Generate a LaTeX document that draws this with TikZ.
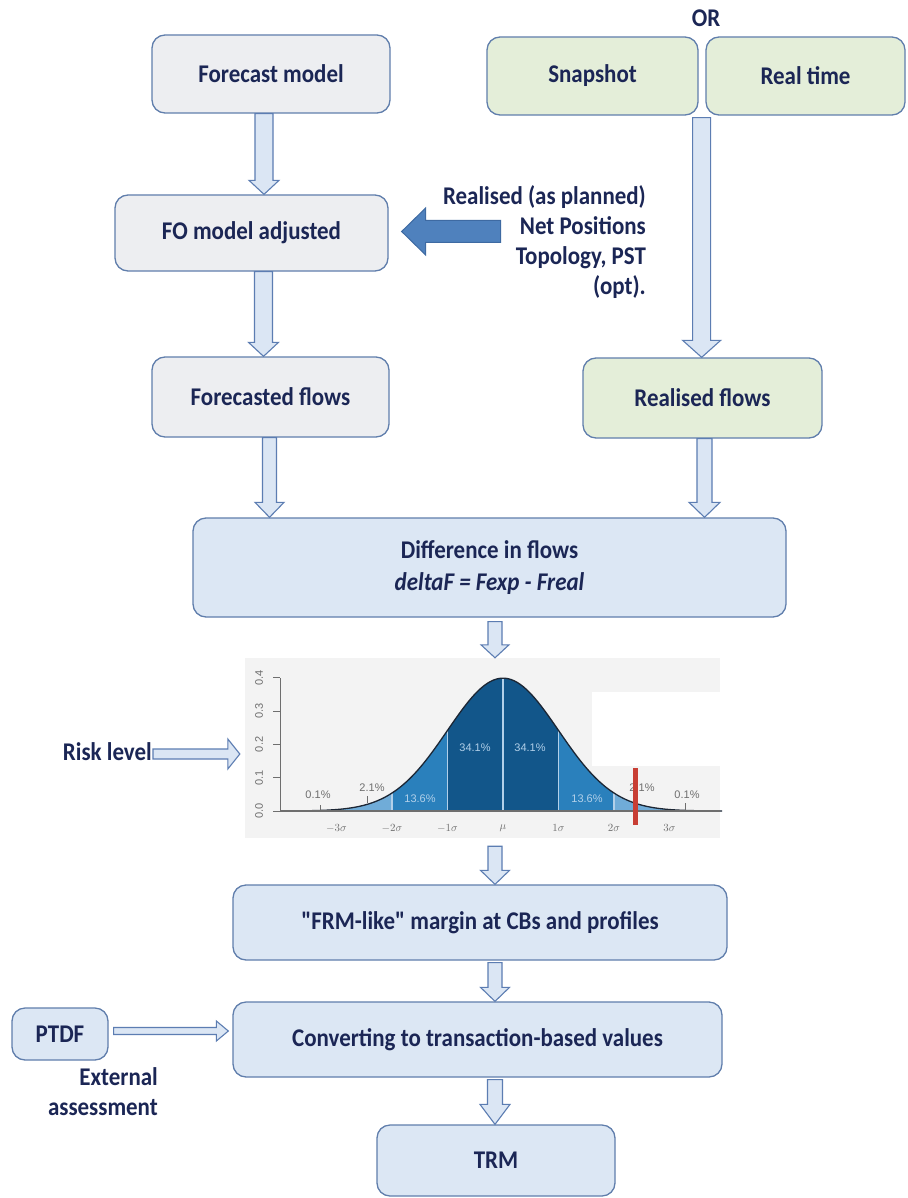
\documentclass[tikz,border=0pt]{standalone}
\usepackage{fontspec}
\setmainfont{Carlito}[FakeStretch=0.9]
\newfontfamily\straightquote{Carlito}[FakeStretch=0.9, Ligatures=ResetAll]
\newfontfamily\chartfont{Liberation Sans}
\usetikzlibrary{calc}

\definecolor{ink}{RGB}{27,38,85}
\definecolor{edge}{RGB}{96,126,172}
\definecolor{grayfill}{RGB}{237,238,241}
\definecolor{greenfill}{RGB}{228,238,217}
\definecolor{bluefill}{RGB}{220,231,244}
\definecolor{arrowfill}{RGB}{219,230,244}
\definecolor{arrowedge}{RGB}{92,125,178}
\definecolor{solidblue}{RGB}{79,129,189}
\definecolor{solidedge}{RGB}{62,106,162}
\definecolor{chartbg}{RGB}{243,243,243}
\definecolor{sigA}{RGB}{18,86,138}
\definecolor{sigB}{RGB}{42,128,188}
\definecolor{sigC}{RGB}{112,172,216}
\definecolor{sigD}{RGB}{172,206,231}
\definecolor{divline}{RGB}{178,208,233}
\definecolor{curveline}{RGB}{28,38,52}
\definecolor{axisgray}{RGB}{110,110,110}
\definecolor{redbar}{RGB}{200,62,52}

% straight double quote, not turned into a curly one
\newcommand\dq{{\straightquote\bfseries\symbol{34}}}

% hollow block arrows built from two named points
\newcommand\downblock[5]{%
  \draw[blockarrow] let \p1=#1, \p2=#2 in
    (\x1-#3pt,\y1) -- (\x1-#3pt,\y2+#5pt) -- (\x1-#4pt,\y2+#5pt) -- (\x1,\y2)
    -- (\x1+#4pt,\y2+#5pt) -- (\x1+#3pt,\y2+#5pt) -- (\x1+#3pt,\y1) -- cycle;}
\newcommand\rightblock[5]{%
  \draw[blockarrow] let \p1=#1, \p2=#2 in
    (\x1,\y1+#3pt) -- (\x2-#5pt,\y1+#3pt) -- (\x2-#5pt,\y1+#4pt) -- (\x2,\y1)
    -- (\x2-#5pt,\y1-#4pt) -- (\x2-#5pt,\y1-#3pt) -- (\x1,\y1-#3pt) -- cycle;}

\begin{document}
\begin{tikzpicture}[x=1pt,y=-1pt,
  box/.style={draw=edge, line width=1.3pt, rounded corners=13pt, text=ink,
    font=\bfseries\fontsize{25.5}{30}\selectfont, align=center, inner sep=0pt},
  gbox/.style={box, fill=grayfill},
  grbox/.style={box, fill=greenfill},
  bbox/.style={box, fill=bluefill},
  label/.style={text=ink, font=\bfseries\fontsize{25.5}{30}\selectfont, inner sep=0pt},
  blockarrow/.style={draw=arrowedge, fill=arrowfill, line width=1.1pt, line join=miter},
  solidarrow/.style={draw=solidedge, fill=solidblue, line width=1pt, line join=miter},
  divider/.style={draw=divline, line width=1.3pt},
  chartlbl/.style={font=\chartfont\fontsize{11}{12}\selectfont, inner sep=0pt},
]
\useasboundingbox (0,0) rectangle (907,1198);
\fill[white] (0,0) rectangle (907,1198);

% ---- upper part: model chain and measured data
\node[gbox, minimum width=238pt, minimum height=78pt] (fm) at (271,74) {Forecast model};
\node[gbox, minimum width=273pt, minimum height=76pt] (fo) at (251.5,233) {FO model adjusted};
\node[gbox, minimum width=237pt, minimum height=80pt] (ff) at (270.5,397) {Forecasted flows};
\node[grbox, minimum width=211pt, minimum height=78pt] (snap) at (592.5,76) {Snapshot};
\node[grbox, minimum width=199pt, minimum height=78pt] (real) at (805.5,76) {Real time};
\node[label] (or) at (706,18) {OR};
\node[grbox, minimum width=239pt, minimum height=80pt] (rf) at (702.5,398) {Realised flows};
\node[label, align=right, anchor=east] (planned) at (646,242)
  {Realised (as planned)\\Net Positions\\Topology, PST\\(opt).};

% ---- comparison and margin chain
\node[bbox, minimum width=593pt, minimum height=99pt] (diff) at (489.5,567.5)
  {Difference in flows\\[2pt]\itshape deltaF = Fexp - Freal};
\node[bbox, minimum width=494pt, minimum height=75pt] (frm) at (480,922.5)
  {\dq FRM-like\dq{} margin at CBs and profiles};
\node[bbox, minimum width=489pt, minimum height=75pt] (conv) at (477.5,1039.5)
  {Converting to transaction-based values};
\node[bbox, minimum width=238pt, minimum height=71pt] (trm) at (496,1160.5) {TRM};
\node[bbox, minimum width=96pt, minimum height=52pt] (ptdf) at (60,1034) {PTDF};
\node[label, align=right, anchor=east] (ext) at (158,1092) {External\\assessment};
\node[label, anchor=east] (risk) at (152,752) {Risk level};

% ---- normal distribution chart
\node[fill=chartbg, minimum width=475pt, minimum height=180pt, inner sep=0pt] (chart) at (482.5,748) {};
\fill[white] (592,692) rectangle (720,766);
\foreach \lo/\hi/\col in {-3.6/-3/sigD, -3/-2/sigC, -2/-1/sigB, -1/0/sigA, 0/1/sigA, 1/2/sigB, 2/3/sigC, 3/3.95/sigD}
  \fill[\col] plot[domain=\lo:\hi, samples=30] ({503+55.5*\x},{811-132.85*exp(-0.5*(\x)*(\x))})
    -- ({503+55.5*\hi},811) -- ({503+55.5*\lo},811) -- cycle;
\foreach \z in {-2,-1,0,1,2}
  \draw[divider] ({503+55.5*\z},810) -- ({503+55.5*\z},{811-132.85*exp(-0.5*(\z)*(\z))});
\draw[curveline, line width=1.3pt] plot[domain=-3.6:3.95, samples=140]
  ({503+55.5*\x},{811-132.85*exp(-0.5*(\x)*(\x))});
\draw[axisgray, line width=1.2pt] (280,811) -- (720,811);
\draw[axisgray, line width=1pt] (280,678) -- (280,811);
\foreach \v/\t in {0/0.0, 1/0.1, 2/0.2, 3/0.3, 4/0.4} {
  \draw[axisgray, line width=1pt] (273,{811-33.3*\v}) -- (280,{811-33.3*\v});
  \node[chartlbl, text=axisgray, rotate=90] at (259,{811-33.3*\v}) {\t};
}
\foreach \z/\t in {-3/$-3\sigma$, -2/$-2\sigma$, -1/$-1\sigma$, 0/$\mu$, 1/$1\sigma$, 2/$2\sigma$, 3/$3\sigma$}
  \node[chartlbl, text=axisgray] at ({503+55.5*\z},828) {\t};
\draw[axisgray, line width=0.8pt] (320,805) -- (320,811);
\draw[axisgray, line width=0.8pt] (367,796) -- (367,803);
\draw[axisgray, line width=0.8pt] (685,803) -- (685,811);
\node[chartlbl, text=axisgray] at (318,795) {0.1\%};
\node[chartlbl, text=axisgray] at (372,788) {2.1\%};
\node[chartlbl, text=divline] at (420,799) {13.6\%};
\node[chartlbl, text=divline] at (475,748) {34.1\%};
\node[chartlbl, text=divline] at (530,748) {34.1\%};
\node[chartlbl, text=divline] at (587,799) {13.6\%};
\node[chartlbl, text=axisgray] at (642,788) {2.1\%};
\node[chartlbl, text=axisgray] at (687,795) {0.1\%};
\fill[redbar] (633,768) rectangle (638,825);

% ---- connectors
\downblock{($(fm.south)+(-7,0)$)}{(fo.north)}{9}{15}{14}
\downblock{($(fo.south)+(12,0)$)}{(ff.north)}{9}{15}{14}
\downblock{($(snap.south east)+(3,2)$)}{(rf.north)}{9}{19}{17}
\downblock{($(ff.south)+(-1,0)$)}{(diff.north)}{7}{14.5}{15}
\downblock{($(rf.south)+(2,0)$)}{(diff.north)}{7.5}{15.5}{15}
\downblock{($(diff.south)+(5.5,4)$)}{(chart.north)}{7}{14}{13}
\downblock{($(chart.south)+(12.5,8)$)}{(frm.north)}{7}{14.5}{14}
\downblock{($(frm.south)+(15,2)$)}{(conv.north)}{7}{14.5}{14}
\downblock{($(conv.south)+(17.5,2)$)}{(trm.north)}{7.5}{15}{20}
\rightblock{($(risk.east)+(1,2)$)}{($(chart.west)+(-5,0)$)}{5}{15}{12}
\rightblock{($(ptdf.east)+(5,-3)$)}{($(conv.west)+(-4,0)$)}{3.5}{10}{12}
\draw[solidarrow] let \p1=($(fo.east)+(112,-1.5)$), \p2=($(fo.east)+(13,0)$) in
  (\x1,\y1+11pt) -- (\x2+24pt,\y1+11pt) -- (\x2+24pt,\y1+23.5pt) -- (\x2,\y1)
  -- (\x2+24pt,\y1-23.5pt) -- (\x2+24pt,\y1-11pt) -- (\x1,\y1-11pt) -- cycle;
\end{tikzpicture}
\end{document}
